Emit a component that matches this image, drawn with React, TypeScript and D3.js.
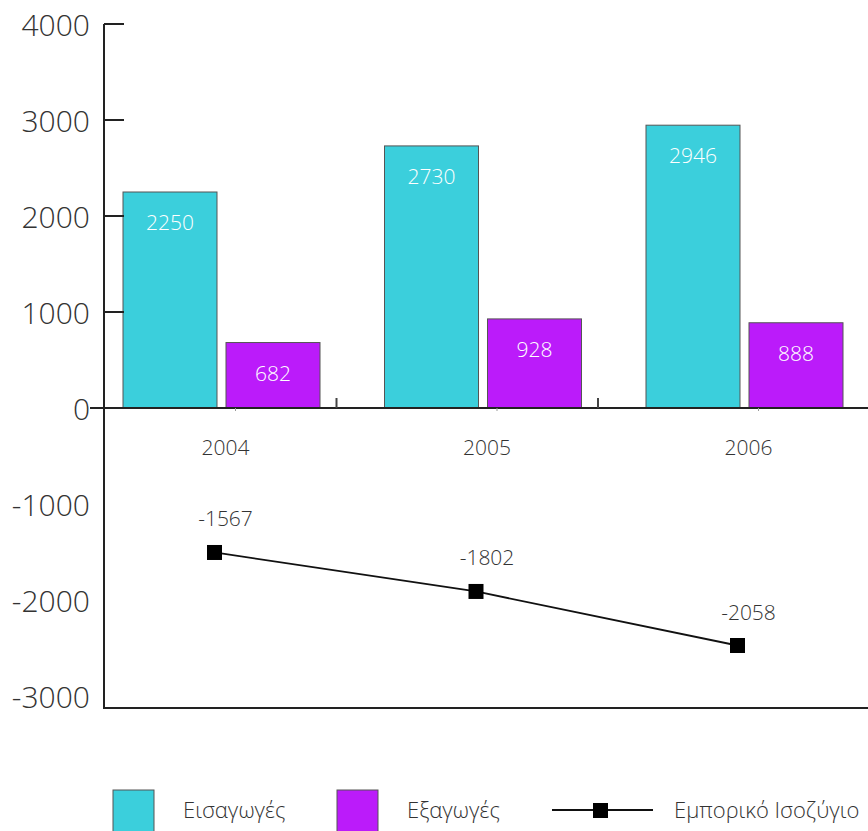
import React from "react";
import * as d3 from "d3";

const years = ["2004", "2005", "2006"];
const imports = [2250, 2730, 2946];
const exports = [682, 928, 888];
// balance as plotted in the picture (marker positions) and as labelled
const balancePlotted = [-1505, -1911, -2474];
const balanceLabels = ["-1567", "-1802", "-2058"];
const yTicks = [4000, 3000, 2000, 1000, 0, -1000, -2000, -3000];
const tickMarks = [4000, 3000, 2000, 1000, 0];
const seriesNames = ["Εισαγωγές", "Εξαγωγές", "Εμπορικό Ισοζύγιο"];

const W = 868;
const H = 831;
const CYAN = "#3BCFDC";
const PURPLE = "#BB1BFA";
const FONT = "'Open Sans', 'Noto Sans', sans-serif";
const TXT = "#333";

export default function App() {
  const y = d3.scaleLinear().domain([0, 4000]).range([408, 24]);
  const x = d3.scaleBand<string>().domain(years).range([90.75, 90.75 + 3 * 261.5]).padding(0);
  const inner = d3
    .scaleBand<string>()
    .domain(["imp", "exp"])
    .range([-98.5, 98.5])
    .paddingInner(0.0874)
    .paddingOuter(0);
  const cx = (yr: string) => (x(yr) as number) + x.bandwidth() / 2;
  const axisX = 104;
  const bottomY = 708;

  const linePts: [number, number][] = years.map((yr, i) => [cx(yr) - 7, y(balancePlotted[i])]);
  const lineGen = d3.line();

  const bars: { key: string; vals: number[]; color: string }[] = [
    { key: "imp", vals: imports, color: CYAN },
    { key: "exp", vals: exports, color: PURPLE },
  ];

  return (
    <svg
      width={W}
      height={H}
      style={{ position: "absolute", left: 0, top: 0, background: "#fff" }}
      fontFamily={FONT}
    >
      {/* bars */}
      {bars.map((s) =>
        years.map((yr, i) => {
          const bx = cx(yr) + (inner(s.key) as number);
          const top = y(s.vals[i]);
          return (
            <g key={s.key + yr}>
              <rect
                x={bx}
                y={top}
                width={inner.bandwidth()}
                height={y(0) - top}
                fill={s.color}
                stroke="#555"
                strokeWidth={1}
              />
              <text
                x={bx + inner.bandwidth() / 2}
                y={top + 38}
                textAnchor="middle"
                fill="#fff"
                fontSize={21}
                fontWeight={300}
              >
                {s.vals[i]}
              </text>
            </g>
          );
        })
      )}

      {/* y axis */}
      <line x1={axisX} x2={axisX} y1={y(4000)} y2={bottomY} stroke="#222" strokeWidth={2} />
      {tickMarks.map((t) => (
        <line key={t} x1={axisX} x2={axisX + 20} y1={y(t)} y2={y(t)} stroke="#222" strokeWidth={2} />
      ))}
      {yTicks.map((t) => (
        <text
          key={t}
          x={90}
          y={y(t) + 12}
          textAnchor="end"
          fill={TXT}
          fontSize={30}
          fontWeight={300}
        >
          {t}
        </text>
      ))}

      {/* zero line and bottom line */}
      <line x1={90} x2={W} y1={y(0)} y2={y(0)} stroke="#222" strokeWidth={2} />
      <line x1={axisX - 1} x2={W} y1={bottomY} y2={bottomY} stroke="#222" strokeWidth={2} />
      {years.map((yr, i) => (
        <g key={"sep" + yr}>
          {i < years.length - 1 && (
            <line x1={cx(yr) + 115} x2={cx(yr) + 115} y1={y(0)} y2={y(0) - 10} stroke="#444" strokeWidth={2} />
          )}
          <line x1={cx(yr) + 14} x2={cx(yr) + 14} y1={y(0)} y2={y(0) + 3} stroke="#999" strokeWidth={1} />
          <text x={cx(yr) + 4} y={455} textAnchor="middle" fill={TXT} fontSize={21} fontWeight={300}>
            {yr}
          </text>
        </g>
      ))}

      {/* balance line */}
      <path d={lineGen(linePts) || ""} fill="none" stroke="#111" strokeWidth={1.8} />
      {linePts.map((p, i) => (
        <g key={"m" + i}>
          <rect x={p[0] - 7.5} y={p[1] - 7.5} width={15} height={15} fill="#000" />
          <text x={p[0] + 11} y={p[1] - 26} textAnchor="middle" fill={TXT} fontSize={21} fontWeight={300}>
            {balanceLabels[i]}
          </text>
        </g>
      ))}

      {/* legend */}
      <rect x={113} y={790} width={41} height={50} fill={CYAN} stroke="#555" strokeWidth={1} />
      <text x={183} y={818} fill={TXT} fontSize={22} fontWeight={300}>
        {seriesNames[0]}
      </text>
      <rect x={337} y={790} width={41} height={50} fill={PURPLE} stroke="#555" strokeWidth={1} />
      <text x={407} y={818} fill={TXT} fontSize={22} fontWeight={300}>
        {seriesNames[1]}
      </text>
      <line x1={552} x2={653} y1={810} y2={810} stroke="#111" strokeWidth={2} />
      <rect x={593} y={803} width={15} height={15} fill="#000" />
      <text x={674} y={818} fill={TXT} fontSize={22} fontWeight={300}>
        {seriesNames[2]}
      </text>
    </svg>
  );
}
